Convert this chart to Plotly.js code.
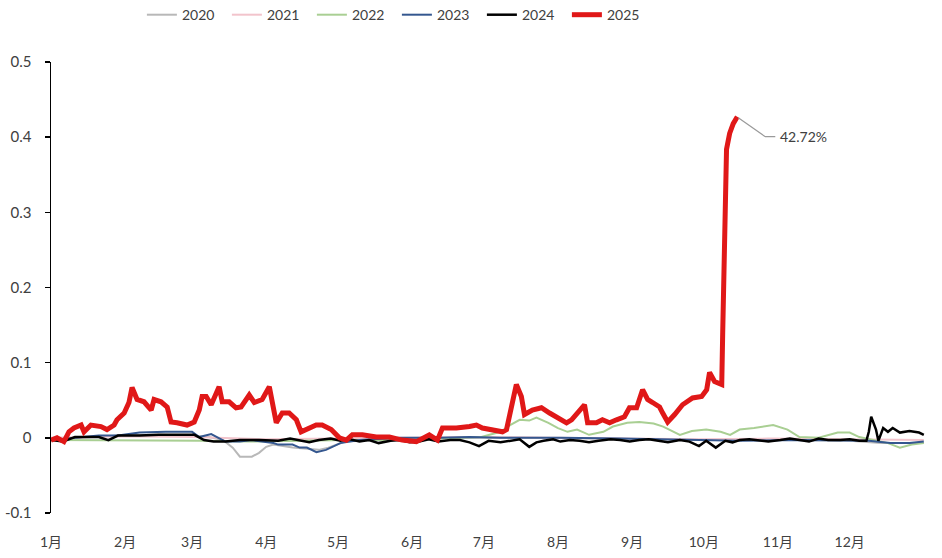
<!DOCTYPE html>
<html>
<head>
<meta charset="utf-8">
<script src="https://cdn.plot.ly/plotly-3.0.1.min.js"></script>
<style>html,body{margin:0;padding:0;background:#fff;}#chart{width:942px;height:558px;}</style>
</head>
<body>
<div id="chart"></div>
<script>
// x = day of year, y = value
const monthTicks = [0, 31, 59, 90, 120, 151, 181, 212, 243, 273, 304, 334];
const monthLabels = ["1月","2月","3月","4月","5月","6月","7月","8月","9月","10月","11月","12月"];
const yTicks = [0.5, 0.4, 0.3, 0.2, 0.1, 0, -0.1];
const yTickLabels = ["0.5","0.4","0.3","0.2","0.1","0","-0.1"];

const x2020 = [0,12,28,45,58,66,72,76,79,84,87,90,93,101,112,116,123,137,167,196,229,271,313,334,347,365];
const y2020 = [-0.003,0,0.003,0.004,0.003,0.001,-0.003,-0.013,-0.025,-0.025,-0.02,-0.012,-0.009,-0.013,-0.016,-0.013,-0.005,-0.003,0,0,-0.001,-0.003,-0.003,-0.004,-0.007,-0.007];

const x2021 = [0,30,60,90,120,150,180,210,240,270,300,330,365];
const y2021 = [0,0.002,0.001,-0.002,-0.001,0,0.001,0,-0.001,-0.002,-0.001,-0.002,-0.003];

const x2022 = [0,20,41,62,83,104,124,146,167,180,188,192,196,200,203,208,212,216,220,225,231,235,241,246,252,256,263,268,274,280,284,288,294,302,308,313,321,329,334,338,350,355,360,365];
const y2022 = [-0.003,-0.003,-0.004,-0.004,-0.005,-0.004,-0.003,-0.003,-0.001,0.001,0.008,0.017,0.024,0.023,0.027,0.02,0.013,0.008,0.011,0.004,0.008,0.015,0.02,0.021,0.019,0.015,0.004,0.009,0.011,0.008,0.004,0.011,0.013,0.017,0.011,0.001,0,0.007,0.007,0.001,-0.007,-0.013,-0.009,-0.007];

const x2023 = [0,12,20,28,37,48,54,59,62,67,70,73,79,84,93,95,101,104,107,111,115,118,121,129,146,162,175,188,213,238,263,288,313,334,342,351,359,365];
const y2023 = [-0.003,0,0.003,0.003,0.007,0.008,0.008,0.008,0.001,0.005,0,-0.005,-0.005,-0.003,-0.007,-0.009,-0.009,-0.013,-0.013,-0.019,-0.016,-0.012,-0.007,-0.003,0,0,0.001,0,0,-0.001,-0.003,-0.004,-0.003,-0.003,-0.004,-0.007,-0.007,-0.005];

const x2024 = [0,5,10,16,20,24,28,37,45,54,60,64,68,73,79,87,95,100,104,108,112,117,121,125,129,133,137,142,146,150,154,158,162,167,171,175,179,183,188,192,196,200,203,206,210,213,217,221,225,229,234,238,242,246,250,254,258,263,267,271,274,278,282,285,288,292,296,300,305,309,313,317,321,325,330,334,338,341,342,343,345,346,348,350,352,355,359,363,365];
const y2024 = [-0.003,-0.005,0.001,0.001,0.001,-0.003,0.003,0.003,0.004,0.004,0.004,-0.003,-0.005,-0.005,-0.003,-0.003,-0.004,-0.001,-0.003,-0.006,-0.003,-0.001,-0.004,-0.002,-0.005,-0.003,-0.007,-0.004,-0.003,-0.006,-0.005,-0.002,-0.005,-0.003,-0.003,-0.006,-0.011,-0.004,-0.006,-0.004,-0.002,-0.012,-0.006,-0.004,-0.002,-0.005,-0.003,-0.004,-0.006,-0.004,-0.002,-0.003,-0.005,-0.003,-0.002,-0.004,-0.006,-0.003,-0.005,-0.011,-0.004,-0.013,-0.004,-0.006,-0.003,-0.002,-0.004,-0.005,-0.003,-0.001,-0.003,-0.005,-0.001,-0.003,-0.003,-0.002,-0.004,-0.004,0.008,0.028,0.011,-0.004,0.013,0.008,0.013,0.007,0.009,0.007,0.004];

const x2025 = [0,2.5,5.4,7.5,9.6,12.6,13.8,16.7,20.9,23.4,26.4,27.6,30.6,32.6,33.9,36,38.9,41.9,43.1,46,48.6,50.2,52.7,56.9,59.9,62,63.2,64.9,67,70.3,71.6,74.5,77.4,79.5,82.9,85,88.3,91.3,94.2,96.7,99.6,102.6,104.6,108,110.9,113.4,117.2,120.6,123.5,126,130.2,136,141.5,146.9,152.8,158.2,161.6,163.7,169.5,175,177.9,180.4,184.6,188.8,190.5,192.5,194.6,196.7,198,201.3,205.1,208.5,211.8,215.6,217.7,221,223.1,224.4,228.1,230.6,233.6,236.5,239.8,241.9,244.9,247.4,249.5,251.6,254.5,255.8,257.9,260.8,264.1,268.3,272.1,274.2,275.4,277.5,280.5,280.9,281.7,282.5,283.8,285.3,287];
const y2025 = [-0.003,0,-0.005,0.008,0.013,0.017,0.008,0.017,0.015,0.011,0.017,0.024,0.033,0.047,0.067,0.051,0.048,0.037,0.051,0.048,0.041,0.021,0.02,0.017,0.021,0.037,0.055,0.055,0.044,0.068,0.048,0.048,0.04,0.041,0.057,0.047,0.051,0.068,0.02,0.033,0.033,0.024,0.008,0.013,0.017,0.017,0.011,0,-0.003,0.004,0.004,0.001,0.001,-0.003,-0.005,0.004,-0.003,0.013,0.013,0.015,0.017,0.013,0.011,0.008,0.011,0.041,0.071,0.055,0.031,0.037,0.04,0.033,0.027,0.02,0.024,0.037,0.044,0.02,0.02,0.024,0.02,0.024,0.028,0.04,0.04,0.064,0.051,0.047,0.041,0.033,0.021,0.031,0.044,0.053,0.055,0.064,0.087,0.075,0.071,0.14,0.273,0.384,0.405,0.418,0.4272];

const peakLabel = "42.72%";

const FONT = "Lato, 'Noto Sans CJK SC', sans-serif";

const traces = [
  {x:x2020, y:y2020, name:"2020", mode:"lines", line:{color:"#b8b8b8", width:2}},
  {x:x2021, y:y2021, name:"2021", mode:"lines", line:{color:"#f2c4cc", width:2}},
  {x:x2022, y:y2022, name:"2022", mode:"lines", line:{color:"#a9cf93", width:2}},
  {x:x2023, y:y2023, name:"2023", mode:"lines", line:{color:"#34578f", width:2}},
  {x:x2024, y:y2024, name:"2024", mode:"lines", line:{color:"#000000", width:2.5}},
  {x:x2025, y:y2025, name:"2025", mode:"lines", line:{color:"#e01818", width:5}}
];

const lastX = x2025[x2025.length-1], lastY = y2025[y2025.length-1];

const layout = {
  width:942, height:558,
  margin:{l:51, r:17, t:62, b:45, autoexpand:false},
  paper_bgcolor:"#ffffff", plot_bgcolor:"#ffffff",
  font:{family:FONT, size:14, color:"#404040"},
  showlegend:true,
  legend:{orientation:"h", x:0.104, xanchor:"left", y:1.104, yanchor:"middle",
          font:{family:FONT, size:14, color:"#404040"}, entrywidth:40, entrywidthmode:"pixels",
          bgcolor:"rgba(0,0,0,0)"},
  xaxis:{range:[0,365.5], tickvals:monthTicks, ticktext:monthLabels, showgrid:false, zeroline:false,
         showline:false, ticks:"", ticklabelstandoff:19, tickfont:{family:FONT, size:14, color:"#404040"}, fixedrange:true, automargin:false},
  yaxis:{range:[-0.1,0.5], tickvals:yTicks, ticktext:yTickLabels, showgrid:false, zeroline:false,
         showline:true, linecolor:"#000000", linewidth:1.5, ticks:"outside", ticklen:5, tickcolor:"#000000", tickwidth:1.5,
         ticklabelstandoff:10, tickfont:{family:FONT, size:15, color:"#404040"}, fixedrange:true, automargin:false},
  shapes:[{type:"path", xref:"x", yref:"y", xsizemode:"pixel", ysizemode:"pixel", xanchor:lastX, yanchor:lastY,
           path:"M1,-1 L28,-20 L38,-20", line:{color:"#9a9a9a", width:1.2}}],
  annotations:[{x:lastX, y:lastY, xref:"x", yref:"y", text:peakLabel, showarrow:false, xanchor:"left", yanchor:"middle",
                xshift:41, yshift:-20, font:{family:FONT, size:14, color:"#404040"}}]
};

Plotly.newPlot("chart", traces, layout, {displayModeBar:false, staticPlot:true});
</script>
</body>
</html>
